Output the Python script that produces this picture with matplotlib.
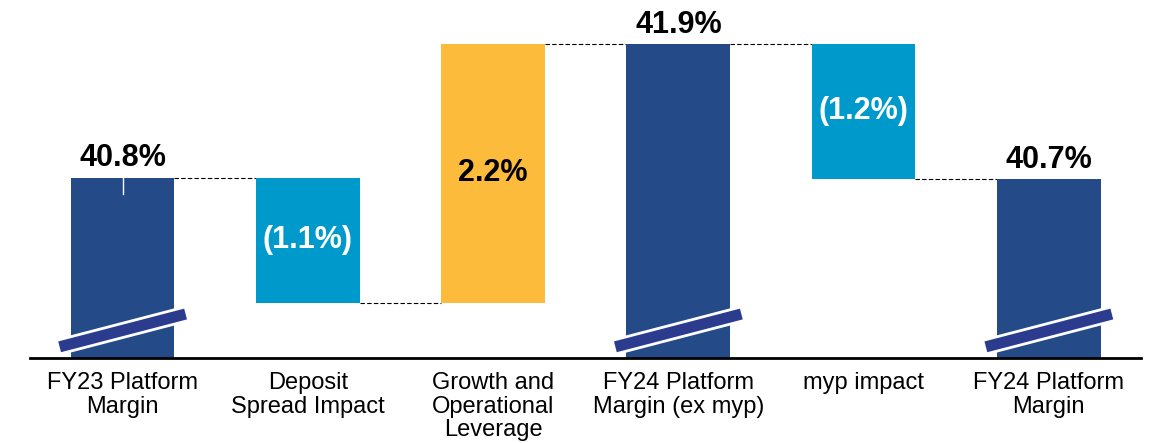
import matplotlib
matplotlib.use('Agg')
import matplotlib.pyplot as plt
import numpy as np

plt.rcParams['font.family'] = ['Liberation Sans', 'DejaVu Sans']

categories = ['FY23 Platform\nMargin', 'Deposit\nSpread Impact', 'Growth and\nOperational\nLeverage',
              'FY24 Platform\nMargin (ex myp)', 'myp impact', 'FY24 Platform\nMargin']
changes = [40.76, -1.07, 2.21, 41.90, -1.15, 40.75]
kinds = ['total', 'delta', 'delta', 'total', 'delta', 'total']
labels = ['40.8%', '(1.1%)', '2.2%', '41.9%', '(1.2%)', '40.7%']

navy = '#244a87'
cyan = '#0099cc'
gold = '#fdbb3b'
brk = '#2b3c8f'

y_lo, y_hi = 39.22, 42.276

fig = plt.figure(figsize=(11.53, 4.43), dpi=100)
ax = fig.add_axes([0.026, 0.192, 0.964, 0.808])
x = np.arange(len(categories))
w = 0.56

bottoms, tops = [], []
level = 0
for c, k in zip(changes, kinds):
    if k == 'total':
        b, t = y_lo, c
        level = c
    else:
        b, t = sorted([level, level + c])
        level = level + c
    bottoms.append(b)
    tops.append(t)

for i, (k, c) in enumerate(zip(kinds, changes)):
    if k == 'total':
        col = navy
    elif c < 0:
        col = cyan
    else:
        col = gold
    ax.bar(x[i], tops[i] - bottoms[i], bottom=bottoms[i], width=w, color=col, zorder=2)
    if k == 'total':
        ax.text(x[i], tops[i] + 0.035, labels[i], ha='center', va='bottom',
                fontsize=22, fontweight='bold', color='black')
        # axis break mark
        px = np.array([-0.34, 0.34])
        py = y_lo + np.array([0.095, 0.375])
        ax.plot(x[i] + px, py, color='white', lw=12, solid_capstyle='butt', zorder=3)
        ax.plot(x[i] + px, py, color=brk, lw=8, solid_capstyle='butt', zorder=4)
    else:
        ax.text(x[i], (tops[i] + bottoms[i]) / 2, labels[i], ha='center', va='center',
                fontsize=22, fontweight='bold', color='black' if c > 0 else 'white')

# small white tick on the first bar
ax.plot([x[0], x[0]], [tops[0], tops[0] - 0.14], color='white', lw=1, zorder=3)

# connectors
level = 0
for i in range(len(changes) - 1):
    level = changes[i] if kinds[i] == 'total' else level + changes[i]
    ax.plot([x[i] + w / 2, x[i + 1] - w / 2], [level, level], color='black',
            lw=0.8, ls=(0, (4, 2)), zorder=1)

ax.set_xlim(-0.5, len(categories) - 0.5)
ax.set_ylim(y_lo, y_hi)
ax.set_xticks(x)
ax.set_xticklabels(categories, fontsize=17, linespacing=1.1)
ax.tick_params(axis='x', length=0, pad=10)
ax.set_yticks([])
for s in ['top', 'right', 'left']:
    ax.spines[s].set_visible(False)
ax.spines['bottom'].set_linewidth(2)
ax.spines['bottom'].set_color('black')

plt.savefig('out.png', dpi=100)
